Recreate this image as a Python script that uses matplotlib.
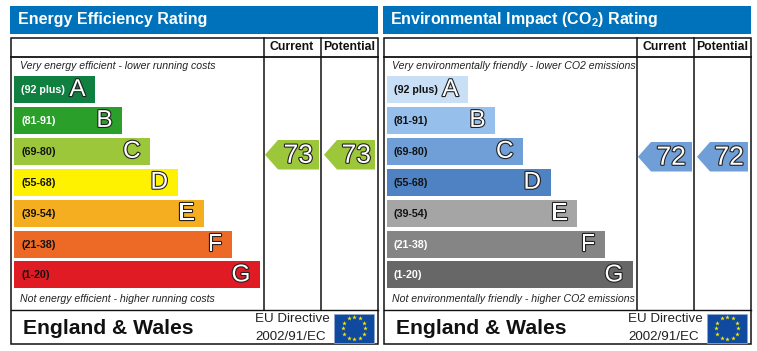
"""Energy / environmental rating panels, drawn on a 757x351 pixel canvas."""
import matplotlib
matplotlib.use("Agg")
import matplotlib.pyplot as plt
import matplotlib.patheffects as pe
import numpy as np
from matplotlib.patches import Polygon, Rectangle

plt.rcParams["font.family"] = ["Liberation Sans", "DejaVu Sans"]
plt.rcParams["mathtext.fontset"] = "custom"
plt.rcParams["mathtext.rm"] = "Liberation Sans"
plt.rcParams["mathtext.bf"] = "Liberation Sans:bold"

letters = ["A", "B", "C", "D", "E", "F", "G"]
ranges = ["(92 plus)", "(81-91)", "(69-80)", "(55-68)", "(39-54)", "(21-38)", "(1-20)"]
bar_lengths = [81.5, 108.5, 136.5, 164, 190.5, 218.5, 246.5]

energy_colors = ["#0f8040", "#2a9f2a", "#9dc73a", "#fff200", "#f5ae1f", "#ec6a25", "#e01b24"]
energy_label_colors = ["white", "white", "#111", "#111", "#111", "#111", "#111"]
energy_current = 73
energy_potential = 73

env_colors = ["#c9dff5", "#97bfec", "#6f9fd6", "#4f82c3", "#a5a5a5", "#858585", "#676767"]
env_label_colors = ["#111", "#111", "#111", "#111", "#111", "white", "white"]
env_current = 72
env_potential = 72

BLUE = "#0072bc"
LINE = "#111111"

fig = plt.figure(figsize=(7.57, 3.51), dpi=100)
ax = fig.add_axes([0, 0, 1, 1])
ax.set_xlim(0, 757)
ax.set_ylim(351, 0)
ax.axis("off")

outline = [pe.withStroke(linewidth=1.6, foreground="#222222")]


def arrow(x0, x1, y0, y1, color, value, pad):
    mid = (y0 + y1) / 2
    ax.add_patch(Polygon([(x0, mid), (x0 + 13, y0), (x1, y0), (x1, y1), (x0 + 13, y1)],
                         closed=True, facecolor=color, edgecolor="none"))
    ax.text(x1 - pad, mid + 1, str(value), ha="right", va="center", fontsize=19,
            color="white", path_effects=outline)


def flag(x, y, w, h):
    ax.add_patch(Rectangle((x, y), w, h, facecolor="#0f4a9e", edgecolor="#8fa8cc", linewidth=0.6))
    t = np.deg2rad(np.arange(0, 360, 30))
    ax.scatter(x + w / 2 + 11 * np.cos(t), y + h / 2 + 11 * np.sin(t), marker="*", s=12,
               color="#ffe500", linewidths=0)


def panel(dx, title, top_note, bottom_note, colors, label_colors, current, potential, arrow_y, title_x):
    # header band
    ax.add_patch(Rectangle((10 + dx, 6), 368, 28, facecolor=BLUE, edgecolor="none"))
    ax.text(title_x, 19.5, title, ha="left", va="center", fontsize=11.5, fontweight="bold", color="white")

    # table frame
    ax.add_patch(Rectangle((10.5 + dx, 37.5), 367.5, 306.5, fill=False, edgecolor=LINE, linewidth=1.1))
    ax.plot([10.5 + dx, 378 + dx], [56.5, 56.5], color=LINE, lw=1.3)
    ax.plot([10.5 + dx, 378 + dx], [309.5, 309.5], color=LINE, lw=1.0)
    ax.plot([263.5 + dx, 263.5 + dx], [37.5, 309.5], color=LINE, lw=1.1)
    ax.plot([321 + dx, 321 + dx], [37.5, 309.5], color=LINE, lw=1.1)
    ax.text(292 + dx, 47.5, "Current", ha="center", va="center", fontsize=8.8, fontweight="bold", color="#111")
    ax.text(349 + dx, 47.5, "Potential", ha="center", va="center", fontsize=8.8, fontweight="bold", color="#111")

    ax.text(19.5 + dx, 66, top_note, ha="left", va="center", fontsize=7.6, style="italic", color="#222")
    ax.text(19.5 + dx, 299.5, bottom_note, ha="left", va="center", fontsize=7.6, style="italic", color="#222")

    # rating bars
    y = 89.5 + 30.9 * np.arange(len(letters))
    ax.barh(y, bar_lengths, height=27, left=13.5 + dx, color=colors, edgecolor="none")
    for i, yi in enumerate(y):
        ax.text(21 + dx, yi + 0.5, ranges[i], ha="left", va="center", fontsize=7.7, fontweight="bold",
                color=label_colors[i])
        ax.text(13.5 + dx + bar_lengths[i] - 9.5, yi + 0.5, letters[i], ha="right", va="center", fontsize=17.5,
                color="white", path_effects=outline)

    arrow(265 + dx, 319 + dx, arrow_y, arrow_y + 29.5, colors[2], current, 6)
    arrow(324 + dx, 375 + dx, arrow_y, arrow_y + 29.5, colors[2], potential, 4)

    # footer
    ax.text(23 + dx, 328, "England & Wales", ha="left", va="center", fontsize=15.2, fontweight="bold", color="#111")
    ax.text(255 + dx, 319, "EU Directive", ha="left", va="center", fontsize=9.6, color="#222")
    ax.text(255 + dx, 336.5, "2002/91/EC", ha="left", va="center", fontsize=9.6, color="#222")
    flag(334 + dx, 313.5, 40, 29)


panel(0, "Energy Efficiency Rating",
      "Very energy efficient - lower running costs",
      "Not energy efficient - higher running costs",
      energy_colors, energy_label_colors, energy_current, energy_potential, 140, 17.5)
panel(373, r"Environmental Impact (CO$_{\mathbf{2}}$) Rating",
      "Very environmentally friendly - lower CO2 emissions",
      "Not environmentally friendly - higher CO2 emissions",
      env_colors, env_label_colors, env_current, env_potential, 142, 390.5)

fig.savefig("out.png", dpi=100)
